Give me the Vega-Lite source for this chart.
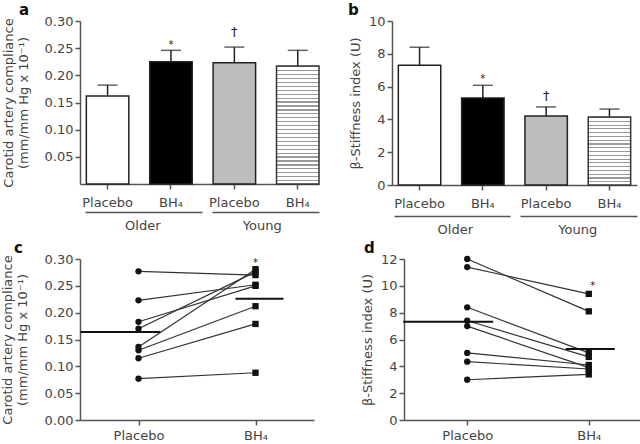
{
  "$schema": "https://vega.github.io/schema/vega-lite/v6.json",
  "padding": {"left": 1, "top": 3, "right": 2, "bottom": 1},
  "datasets": {
    "bars_a": [
      {"age": "Older", "trt": "Placebo", "cond": "Older Placebo", "value": 0.162, "upper": 0.182, "sig": ""},
      {"age": "Older", "trt": "BH4", "cond": "Older BH4", "value": 0.225, "upper": 0.246, "sig": "*"},
      {"age": "Young", "trt": "Placebo", "cond": "Young Placebo", "value": 0.223, "upper": 0.252, "sig": "†"},
      {"age": "Young", "trt": "BH4", "cond": "Young BH4", "value": 0.217, "upper": 0.246, "sig": ""}
    ],
    "bars_b": [
      {"age": "Older", "trt": "Placebo", "cond": "Older Placebo", "value": 7.3, "upper": 8.4, "sig": ""},
      {"age": "Older", "trt": "BH4", "cond": "Older BH4", "value": 5.3, "upper": 6.08, "sig": "*"},
      {"age": "Young", "trt": "Placebo", "cond": "Young Placebo", "value": 4.21, "upper": 4.76, "sig": "†"},
      {"age": "Young", "trt": "BH4", "cond": "Young BH4", "value": 4.15, "upper": 4.63, "sig": ""}
    ],
    "pairs_c": [
      {"subject": 1, "group": "Placebo", "value": 0.277}, {"subject": 1, "group": "BH4", "value": 0.270},
      {"subject": 2, "group": "Placebo", "value": 0.223}, {"subject": 2, "group": "BH4", "value": 0.252},
      {"subject": 3, "group": "Placebo", "value": 0.183}, {"subject": 3, "group": "BH4", "value": 0.250},
      {"subject": 4, "group": "Placebo", "value": 0.170}, {"subject": 4, "group": "BH4", "value": 0.276},
      {"subject": 5, "group": "Placebo", "value": 0.136}, {"subject": 5, "group": "BH4", "value": 0.281},
      {"subject": 6, "group": "Placebo", "value": 0.130}, {"subject": 6, "group": "BH4", "value": 0.212},
      {"subject": 7, "group": "Placebo", "value": 0.115}, {"subject": 7, "group": "BH4", "value": 0.179},
      {"subject": 8, "group": "Placebo", "value": 0.077}, {"subject": 8, "group": "BH4", "value": 0.088}
    ],
    "pairs_d": [
      {"subject": 1, "group": "Placebo", "value": 12.0}, {"subject": 1, "group": "BH4", "value": 8.1},
      {"subject": 2, "group": "Placebo", "value": 11.4}, {"subject": 2, "group": "BH4", "value": 9.4},
      {"subject": 3, "group": "Placebo", "value": 8.4}, {"subject": 3, "group": "BH4", "value": 5.0},
      {"subject": 4, "group": "Placebo", "value": 7.4}, {"subject": 4, "group": "BH4", "value": 4.7},
      {"subject": 5, "group": "Placebo", "value": 7.0}, {"subject": 5, "group": "BH4", "value": 3.9},
      {"subject": 6, "group": "Placebo", "value": 5.0}, {"subject": 6, "group": "BH4", "value": 4.1},
      {"subject": 7, "group": "Placebo", "value": 4.35}, {"subject": 7, "group": "BH4", "value": 3.8},
      {"subject": 8, "group": "Placebo", "value": 3.0}, {"subject": 8, "group": "BH4", "value": 3.4}
    ]
  },
  "vconcat": [
    {
      "hconcat": [
        {
          "width": 239, "height": 163,
          "title": {"text": "a", "anchor": "start", "frame": "group", "dx": -61, "offset": -3},
          "resolve": {"scale": {"x": "independent"}, "axis": {"x": "independent"}},
          "layer": [
            {
              "data": {"name": "bars_a"},
              "encoding": {
                "x": {"field": "cond", "type": "nominal", "sort": null,
                  "scale": {"type": "band", "domain": ["Older Placebo", "Older BH4", "Young Placebo", "Young BH4"], "paddingInner": 0.33, "paddingOuter": 0.05, "align": 1},
                  "axis": {"title": null, "labelAngle": 0, "tickSize": 5, "labelPadding": 7, "labelExpr": "indexof(datum.label,'BH4') >= 0 ? 'BH₄' : 'Placebo'"}}
              },
              "layer": [
                {"mark": {"type": "rule", "stroke": "#222", "strokeWidth": 1.5},
                  "encoding": {
                    "y": {"field": "value", "type": "quantitative", "scale": {"domain": [0, 0.3]},
                      "axis": {"title": ["Carotid artery compliance", "(mm/mm Hg x 10⁻¹)"], "values": [0.05, 0.1, 0.15, 0.2, 0.25, 0.3], "tickCount": 20, "format": ".2f", "tickSize": 5, "labelPadding": 2, "titlePadding": 14, "labelOverlap": false}},
                    "y2": {"field": "upper"}}},
                {"mark": {"type": "tick", "size": 20, "thickness": 1.5, "color": "#222"},
                  "encoding": {"y": {"field": "upper", "type": "quantitative"}}},
                {"transform": [{"filter": "datum.cond !== 'Young BH4'"}],
                  "mark": {"type": "bar", "stroke": "#222", "strokeWidth": 1.5},
                  "encoding": {
                    "y": {"field": "value", "type": "quantitative"},
                    "fill": {"field": "cond", "type": "nominal", "scale": {"domain": ["Older Placebo", "Older BH4", "Young Placebo"], "range": ["#ffffff", "#000000", "#bdbdbd"]}, "legend": null}}},
                {"transform": [{"filter": "datum.cond === 'Young BH4'"}],
                  "mark": {"type": "bar", "stroke": "#333", "strokeWidth": 1.5,
                    "fill": {"gradient": "linear", "x1": 0, "y1": 0, "x2": 0, "y2": 1, "stops": [
{"offset":0,"color":"#999"},{"offset":0.01,"color":"#999"},{"offset":0.01,"color":"#fff"},{"offset":0.0333,"color":"#fff"},
{"offset":0.0333,"color":"#999"},{"offset":0.0433,"color":"#999"},{"offset":0.0433,"color":"#fff"},{"offset":0.0667,"color":"#fff"},
{"offset":0.0667,"color":"#999"},{"offset":0.0767,"color":"#999"},{"offset":0.0767,"color":"#fff"},{"offset":0.1,"color":"#fff"},
{"offset":0.1,"color":"#999"},{"offset":0.11,"color":"#999"},{"offset":0.11,"color":"#fff"},{"offset":0.1333,"color":"#fff"},
{"offset":0.1333,"color":"#999"},{"offset":0.1433,"color":"#999"},{"offset":0.1433,"color":"#fff"},{"offset":0.1667,"color":"#fff"},
{"offset":0.1667,"color":"#999"},{"offset":0.1767,"color":"#999"},{"offset":0.1767,"color":"#fff"},{"offset":0.2,"color":"#fff"},
{"offset":0.2,"color":"#999"},{"offset":0.21,"color":"#999"},{"offset":0.21,"color":"#fff"},{"offset":0.2333,"color":"#fff"},
{"offset":0.2333,"color":"#999"},{"offset":0.2433,"color":"#999"},{"offset":0.2433,"color":"#fff"},{"offset":0.2667,"color":"#fff"},
{"offset":0.2667,"color":"#999"},{"offset":0.2767,"color":"#999"},{"offset":0.2767,"color":"#fff"},{"offset":0.3,"color":"#fff"},
{"offset":0.3,"color":"#999"},{"offset":0.31,"color":"#999"},{"offset":0.31,"color":"#fff"},{"offset":0.3333,"color":"#fff"},
{"offset":0.3333,"color":"#999"},{"offset":0.3433,"color":"#999"},{"offset":0.3433,"color":"#fff"},{"offset":0.3667,"color":"#fff"},
{"offset":0.3667,"color":"#999"},{"offset":0.3767,"color":"#999"},{"offset":0.3767,"color":"#fff"},{"offset":0.4,"color":"#fff"},
{"offset":0.4,"color":"#999"},{"offset":0.41,"color":"#999"},{"offset":0.41,"color":"#fff"},{"offset":0.4333,"color":"#fff"},
{"offset":0.4333,"color":"#999"},{"offset":0.4433,"color":"#999"},{"offset":0.4433,"color":"#fff"},{"offset":0.4667,"color":"#fff"},
{"offset":0.4667,"color":"#999"},{"offset":0.4767,"color":"#999"},{"offset":0.4767,"color":"#fff"},{"offset":0.5,"color":"#fff"},
{"offset":0.5,"color":"#999"},{"offset":0.51,"color":"#999"},{"offset":0.51,"color":"#fff"},{"offset":0.5333,"color":"#fff"},
{"offset":0.5333,"color":"#999"},{"offset":0.5433,"color":"#999"},{"offset":0.5433,"color":"#fff"},{"offset":0.5667,"color":"#fff"},
{"offset":0.5667,"color":"#999"},{"offset":0.5767,"color":"#999"},{"offset":0.5767,"color":"#fff"},{"offset":0.6,"color":"#fff"},
{"offset":0.6,"color":"#999"},{"offset":0.61,"color":"#999"},{"offset":0.61,"color":"#fff"},{"offset":0.6333,"color":"#fff"},
{"offset":0.6333,"color":"#999"},{"offset":0.6433,"color":"#999"},{"offset":0.6433,"color":"#fff"},{"offset":0.6667,"color":"#fff"},
{"offset":0.6667,"color":"#999"},{"offset":0.6767,"color":"#999"},{"offset":0.6767,"color":"#fff"},{"offset":0.7,"color":"#fff"},
{"offset":0.7,"color":"#999"},{"offset":0.71,"color":"#999"},{"offset":0.71,"color":"#fff"},{"offset":0.7333,"color":"#fff"},
{"offset":0.7333,"color":"#999"},{"offset":0.7433,"color":"#999"},{"offset":0.7433,"color":"#fff"},{"offset":0.7667,"color":"#fff"},
{"offset":0.7667,"color":"#999"},{"offset":0.7767,"color":"#999"},{"offset":0.7767,"color":"#fff"},{"offset":0.8,"color":"#fff"},
{"offset":0.8,"color":"#999"},{"offset":0.81,"color":"#999"},{"offset":0.81,"color":"#fff"},{"offset":0.8333,"color":"#fff"},
{"offset":0.8333,"color":"#999"},{"offset":0.8433,"color":"#999"},{"offset":0.8433,"color":"#fff"},{"offset":0.8667,"color":"#fff"},
{"offset":0.8667,"color":"#999"},{"offset":0.8767,"color":"#999"},{"offset":0.8767,"color":"#fff"},{"offset":0.9,"color":"#fff"},
{"offset":0.9,"color":"#999"},{"offset":0.91,"color":"#999"},{"offset":0.91,"color":"#fff"},{"offset":0.9333,"color":"#fff"},
{"offset":0.9333,"color":"#999"},{"offset":0.9433,"color":"#999"},{"offset":0.9433,"color":"#fff"},{"offset":0.9667,"color":"#fff"},
{"offset":0.9667,"color":"#999"},{"offset":0.9767,"color":"#999"},{"offset":0.9767,"color":"#fff"},{"offset":1,"color":"#fff"}
                    ]}},
                  "encoding": {"y": {"field": "value", "type": "quantitative"}}},
                {"transform": [{"filter": "datum.sig === '*'"}],
                  "mark": {"type": "text", "baseline": "alphabetic", "fontSize": 10, "dy": -2, "color": "#222"},
                  "encoding": {"y": {"field": "upper", "type": "quantitative"}, "text": {"field": "sig"}}},
                {"transform": [{"filter": "datum.sig === '†'"}],
                  "mark": {"type": "text", "baseline": "alphabetic", "fontSize": 13, "dy": -11, "color": "#222"},
                  "encoding": {"y": {"field": "upper", "type": "quantitative"}, "text": {"field": "sig"}}}
              ]
            },
            {
              "data": {"name": "bars_a"},
              "mark": {"type": "point", "opacity": 0},
              "encoding": {
                "x": {"field": "age", "type": "nominal", "scale": {"type": "band", "domain": ["Older", "Young"], "paddingInner": 0, "paddingOuter": 0},
                  "axis": {"orient": "bottom", "offset": 28, "title": null, "ticks": false, "labelAngle": 0, "labelPadding": 7, "labelOffset": 3, "domainDash": [0, 5, 117, 10, 107]}}
              }
            }
          ]
        },
        {
          "width": 245, "height": 164,
          "title": {"text": "b", "anchor": "start", "frame": "group", "dx": -44, "offset": -3},
          "resolve": {"scale": {"x": "independent"}, "axis": {"x": "independent"}},
          "layer": [
            {
              "data": {"name": "bars_b"},
              "encoding": {
                "x": {"field": "cond", "type": "nominal", "sort": null,
                  "scale": {"type": "band", "domain": ["Older Placebo", "Older BH4", "Young Placebo", "Young BH4"], "paddingInner": 0.33, "paddingOuter": 0.1, "align": 0.5},
                  "axis": {"title": null, "labelAngle": 0, "tickSize": 5, "labelPadding": 7, "labelExpr": "indexof(datum.label,'BH4') >= 0 ? 'BH₄' : 'Placebo'"}}
              },
              "layer": [
                {"mark": {"type": "rule", "stroke": "#222", "strokeWidth": 1.5},
                  "encoding": {
                    "y": {"field": "value", "type": "quantitative", "scale": {"domain": [0, 10]},
                      "axis": {"title": "β-Stiffness index (U)", "values": [0, 2, 4, 6, 8, 10], "tickCount": 20, "format": "d", "tickSize": 5, "labelPadding": 2, "titlePadding": 6, "labelOverlap": false}},
                    "y2": {"field": "upper"}}},
                {"mark": {"type": "tick", "size": 20, "thickness": 1.5, "color": "#222"},
                  "encoding": {"y": {"field": "upper", "type": "quantitative"}}},
                {"transform": [{"filter": "datum.cond !== 'Young BH4'"}],
                  "mark": {"type": "bar", "stroke": "#222", "strokeWidth": 1.5},
                  "encoding": {
                    "y": {"field": "value", "type": "quantitative"},
                    "fill": {"field": "cond", "type": "nominal", "scale": {"domain": ["Older Placebo", "Older BH4", "Young Placebo"], "range": ["#ffffff", "#000000", "#bdbdbd"]}, "legend": null}}},
                {"transform": [{"filter": "datum.cond === 'Young BH4'"}],
                  "mark": {"type": "bar", "stroke": "#333", "strokeWidth": 1.5,
                    "fill": {"gradient": "linear", "x1": 0, "y1": 0, "x2": 0, "y2": 1, "stops": [
{"offset":0,"color":"#999"},{"offset":0.0167,"color":"#999"},{"offset":0.0167,"color":"#fff"},{"offset":0.0556,"color":"#fff"},
{"offset":0.0556,"color":"#999"},{"offset":0.0722,"color":"#999"},{"offset":0.0722,"color":"#fff"},{"offset":0.1111,"color":"#fff"},
{"offset":0.1111,"color":"#999"},{"offset":0.1278,"color":"#999"},{"offset":0.1278,"color":"#fff"},{"offset":0.1667,"color":"#fff"},
{"offset":0.1667,"color":"#999"},{"offset":0.1833,"color":"#999"},{"offset":0.1833,"color":"#fff"},{"offset":0.2222,"color":"#fff"},
{"offset":0.2222,"color":"#999"},{"offset":0.2389,"color":"#999"},{"offset":0.2389,"color":"#fff"},{"offset":0.2778,"color":"#fff"},
{"offset":0.2778,"color":"#999"},{"offset":0.2944,"color":"#999"},{"offset":0.2944,"color":"#fff"},{"offset":0.3333,"color":"#fff"},
{"offset":0.3333,"color":"#999"},{"offset":0.35,"color":"#999"},{"offset":0.35,"color":"#fff"},{"offset":0.3889,"color":"#fff"},
{"offset":0.3889,"color":"#999"},{"offset":0.4056,"color":"#999"},{"offset":0.4056,"color":"#fff"},{"offset":0.4444,"color":"#fff"},
{"offset":0.4444,"color":"#999"},{"offset":0.4611,"color":"#999"},{"offset":0.4611,"color":"#fff"},{"offset":0.5,"color":"#fff"},
{"offset":0.5,"color":"#999"},{"offset":0.5167,"color":"#999"},{"offset":0.5167,"color":"#fff"},{"offset":0.5556,"color":"#fff"},
{"offset":0.5556,"color":"#999"},{"offset":0.5722,"color":"#999"},{"offset":0.5722,"color":"#fff"},{"offset":0.6111,"color":"#fff"},
{"offset":0.6111,"color":"#999"},{"offset":0.6278,"color":"#999"},{"offset":0.6278,"color":"#fff"},{"offset":0.6667,"color":"#fff"},
{"offset":0.6667,"color":"#999"},{"offset":0.6833,"color":"#999"},{"offset":0.6833,"color":"#fff"},{"offset":0.7222,"color":"#fff"},
{"offset":0.7222,"color":"#999"},{"offset":0.7389,"color":"#999"},{"offset":0.7389,"color":"#fff"},{"offset":0.7778,"color":"#fff"},
{"offset":0.7778,"color":"#999"},{"offset":0.7944,"color":"#999"},{"offset":0.7944,"color":"#fff"},{"offset":0.8333,"color":"#fff"},
{"offset":0.8333,"color":"#999"},{"offset":0.85,"color":"#999"},{"offset":0.85,"color":"#fff"},{"offset":0.8889,"color":"#fff"},
{"offset":0.8889,"color":"#999"},{"offset":0.9056,"color":"#999"},{"offset":0.9056,"color":"#fff"},{"offset":0.9444,"color":"#fff"},
{"offset":0.9444,"color":"#999"},{"offset":0.9611,"color":"#999"},{"offset":0.9611,"color":"#fff"},{"offset":1,"color":"#fff"}
                    ]}},
                  "encoding": {"y": {"field": "value", "type": "quantitative"}}},
                {"transform": [{"filter": "datum.sig === '*'"}],
                  "mark": {"type": "text", "baseline": "alphabetic", "fontSize": 10, "dy": -3, "color": "#222"},
                  "encoding": {"y": {"field": "upper", "type": "quantitative"}, "text": {"field": "sig"}}},
                {"transform": [{"filter": "datum.sig === '†'"}],
                  "mark": {"type": "text", "baseline": "alphabetic", "fontSize": 13, "dy": -7, "color": "#222"},
                  "encoding": {"y": {"field": "upper", "type": "quantitative"}, "text": {"field": "sig"}}}
              ]
            },
            {
              "data": {"name": "bars_b"},
              "mark": {"type": "point", "opacity": 0},
              "encoding": {
                "x": {"field": "age", "type": "nominal", "scale": {"type": "band", "domain": ["Older", "Young"], "paddingInner": 0, "paddingOuter": 0},
                  "axis": {"orient": "bottom", "offset": 31, "title": null, "ticks": false, "labelAngle": 0, "labelPadding": 7, "labelOffset": 2, "domainDash": [0, 2, 116, 10, 117]}}
              }
            }
          ]
        }
      ],
      "spacing": 28
    },
    {
      "hconcat": [
        {
          "width": 234, "height": 161,
          "title": {"text": "c", "anchor": "start", "frame": "group", "dx": -66, "offset": -3},
          "data": {"name": "pairs_c"},
          "encoding": {
            "x": {"field": "group", "type": "nominal", "sort": null,
              "scale": {"type": "point", "domain": ["Placebo", "BH4"], "padding": 0.5},
              "axis": {"title": null, "labelAngle": 0, "tickSize": 5, "labelPadding": 4, "labelExpr": "datum.label === 'BH4' ? 'BH₄' : 'Placebo'"}}
          },
          "layer": [
            {"mark": {"type": "line", "color": "#333", "strokeWidth": 1.2},
              "encoding": {
                "y": {"field": "value", "type": "quantitative", "scale": {"domain": [0, 0.3]},
                  "axis": {"title": ["Carotid artery compliance", "(mm/mm Hg x 10⁻¹)"], "values": [0, 0.05, 0.1, 0.15, 0.2, 0.25, 0.3], "tickCount": 20, "format": ".2f", "tickSize": 5, "labelPadding": 2, "titlePadding": 15, "labelOverlap": false}},
                "detail": {"field": "subject", "type": "nominal"}}},
            {"mark": {"type": "point", "filled": true, "color": "#111", "opacity": 1, "size": 40},
              "encoding": {
                "y": {"field": "value", "type": "quantitative"},
                "shape": {"field": "group", "type": "nominal", "scale": {"domain": ["Placebo", "BH4"], "range": ["circle", "square"]}, "legend": null}}},
            {"transform": [{"filter": "datum.group === 'Placebo'"}, {"aggregate": [{"op": "mean", "field": "value", "as": "mean"}], "groupby": ["group"]}],
              "mark": {"type": "rule", "color": "#111", "strokeWidth": 2, "xOffset": -58, "x2Offset": 22},
              "encoding": {"y": {"field": "mean", "type": "quantitative"}, "x2": {"field": "group"}}},
            {"transform": [{"filter": "datum.group === 'BH4'"}, {"aggregate": [{"op": "mean", "field": "value", "as": "mean"}], "groupby": ["group"]}],
              "mark": {"type": "rule", "color": "#111", "strokeWidth": 2, "xOffset": -20, "x2Offset": 28},
              "encoding": {"y": {"field": "mean", "type": "quantitative"}, "x2": {"field": "group"}}},
            {"transform": [{"filter": "datum.group === 'BH4'"}, {"aggregate": [{"op": "max", "field": "value", "as": "vmax"}], "groupby": ["group"]}],
              "mark": {"type": "text", "text": "*", "baseline": "alphabetic", "fontSize": 10, "dy": -3, "color": "#222"},
              "encoding": {"y": {"field": "vmax", "type": "quantitative"}}}
          ]
        },
        {
          "width": 248, "height": 161,
          "title": {"text": "d", "anchor": "start", "frame": "group", "dx": -40, "offset": -3},
          "data": {"name": "pairs_d"},
          "encoding": {
            "x": {"field": "group", "type": "nominal", "sort": null,
              "scale": {"type": "point", "domain": ["Placebo", "BH4"], "padding": 0.52},
              "axis": {"title": null, "labelAngle": 0, "tickSize": 5, "labelPadding": 4, "labelExpr": "datum.label === 'BH4' ? 'BH₄' : 'Placebo'"}}
          },
          "layer": [
            {"mark": {"type": "line", "color": "#333", "strokeWidth": 1.2},
              "encoding": {
                "y": {"field": "value", "type": "quantitative", "scale": {"domain": [0, 12]},
                  "axis": {"title": "β-Stiffness index (U)", "values": [0, 2, 4, 6, 8, 10, 12], "tickCount": 20, "format": "d", "tickSize": 5, "labelPadding": 2, "titlePadding": 6, "labelOverlap": false}},
                "detail": {"field": "subject", "type": "nominal"}}},
            {"mark": {"type": "point", "filled": true, "color": "#111", "opacity": 1, "size": 40},
              "encoding": {
                "y": {"field": "value", "type": "quantitative"},
                "shape": {"field": "group", "type": "nominal", "scale": {"domain": ["Placebo", "BH4"], "range": ["circle", "square"]}, "legend": null}}},
            {"transform": [{"filter": "datum.group === 'Placebo'"}, {"aggregate": [{"op": "mean", "field": "value", "as": "mean"}], "groupby": ["group"]}],
              "mark": {"type": "rule", "color": "#111", "strokeWidth": 2, "xOffset": -64, "x2Offset": 26},
              "encoding": {"y": {"field": "mean", "type": "quantitative"}, "x2": {"field": "group"}}},
            {"transform": [{"filter": "datum.group === 'BH4'"}, {"aggregate": [{"op": "mean", "field": "value", "as": "mean"}], "groupby": ["group"]}],
              "mark": {"type": "rule", "color": "#111", "strokeWidth": 2, "xOffset": -23, "x2Offset": 26},
              "encoding": {"y": {"field": "mean", "type": "quantitative"}, "x2": {"field": "group"}}},
            {"transform": [{"filter": "datum.group === 'BH4'"}, {"aggregate": [{"op": "max", "field": "value", "as": "vmax"}], "groupby": ["group"]}],
              "mark": {"type": "text", "text": "*", "baseline": "alphabetic", "fontSize": 10, "dy": -5, "dx": 4, "color": "#222"},
              "encoding": {"y": {"field": "vmax", "type": "quantitative"}}}
          ]
        }
      ],
      "spacing": 47
    }
  ],
  "spacing": 5,
  "config": {
    "view": {"stroke": null},
    "font": "DejaVu Sans",
    "axis": {"domainColor": "#555", "domainWidth": 1.5, "tickColor": "#555", "tickWidth": 1.5, "labelColor": "#444", "labelFontSize": 13, "titleColor": "#444", "titleFontSize": 13, "titleLineHeight": 15, "titleFontWeight": "normal", "grid": false, "labelFont": "DejaVu Sans", "titleFont": "DejaVu Sans", "labelOverlap": false},
    "title": {"fontSize": 15, "fontWeight": "bold", "color": "#111", "font": "DejaVu Sans"}
  }
}
